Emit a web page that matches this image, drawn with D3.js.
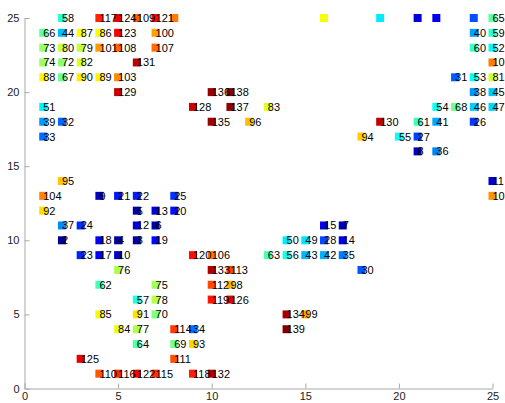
<!DOCTYPE html>
<html>
<head>
<meta charset="utf-8">
<script src="https://cdn.jsdelivr.net/npm/d3@7"></script>
<style>
  body { margin: 0; background: #fff; }
  .axis text { font-family: "Liberation Sans", Arial, sans-serif; font-size: 11px; fill: #222; }
  .axis path, .axis line { stroke: #a8a8a8; }
  .lbl { font-family: "Liberation Sans", Arial, sans-serif; font-size: 11px; fill: #000; }
</style>
</head>
<body>
<div id="chart-area"></div>
<script>
// labelled points, read row by row (top row first)
let pointX = [
  2, 4, 5, 6, 7, 25,
  1, 2, 3, 4, 5, 7, 24, 25,
  1, 2, 3, 4, 5, 7, 24, 25,
  1, 2, 3, 6, 25,
  1, 2, 3, 4, 5, 23, 24, 25,
  5, 10, 11, 24, 25,
  1, 9, 11, 13, 22, 23, 24, 25,
  1, 2, 10, 12, 19, 21, 22, 24,
  1, 18, 20, 21,
  21, 22,
  2, 25,
  1, 4, 5, 6, 8, 25,
  1, 6, 7, 8,
  2, 3, 6, 7, 16, 17,
  2, 4, 5, 6, 7, 14, 15, 16, 17,
  3, 4, 5, 9, 10, 13, 14, 15, 16, 17,
  5, 10, 11, 18,
  4, 7, 10, 11,
  6, 7, 10, 11,
  4, 6, 7, 14, 15,
  5, 6, 8, 9, 14,
  6, 8, 9,
  3, 8,
  4, 5, 6, 7, 9, 10
];
let pointY = [
  25, 25, 25, 25, 25, 25,
  24, 24, 24, 24, 24, 24, 24, 24,
  23, 23, 23, 23, 23, 23, 23, 23,
  22, 22, 22, 22, 22,
  21, 21, 21, 21, 21, 21, 21, 21,
  20, 20, 20, 20, 20,
  19, 19, 19, 19, 19, 19, 19, 19,
  18, 18, 18, 18, 18, 18, 18, 18,
  17, 17, 17, 17,
  16, 16,
  14, 14,
  13, 13, 13, 13, 13, 13,
  12, 12, 12, 12,
  11, 11, 11, 11, 11, 11,
  10, 10, 10, 10, 10, 10, 10, 10, 10,
  9, 9, 9, 9, 9, 9, 9, 9, 9, 9,
  8, 8, 8, 8,
  7, 7, 7, 7,
  6, 6, 6, 6,
  5, 5, 5, 5, 5,
  4, 4, 4, 4, 4,
  3, 3, 3,
  2, 2,
  1, 1, 1, 1, 1, 1
];
let pointLabel = [
  58, 117, 124, 109, 121, 65,
  66, 44, 87, 86, 123, 100, 40, 59,
  73, 80, 79, 101, 108, 107, 60, 52,
  74, 72, 82, 131, 105,
  88, 67, 90, 89, 103, 31, 53, 81,
  129, 136, 138, 38, 45,
  51, 128, 137, 83, 54, 68, 46, 47,
  39, 32, 135, 96, 130, 61, 41, 26,
  33, 94, 55, 27,
  8, 36,
  95, 11,
  104, 9, 21, 22, 25, 102,
  92, 5, 13, 20,
  37, 24, 12, 6, 15, 7,
  2, 18, 4, 3, 19, 50, 49, 28, 14,
  23, 17, 10, 120, 106, 63, 56, 43, 42, 35,
  76, 133, 113, 30,
  62, 75, 112, 98,
  57, 78, 119, 126,
  85, 91, 70, 134, 99,
  84, 77, 114, 34, 139,
  64, 69, 93,
  125, 111,
  110, 116, 122, 115, 118, 132
];

// markers on the top row that carry no label
let blankX = [8, 16, 19, 21, 22, 24];
let blankY = [25, 25, 25, 25, 25, 25];
let blankClass = [105, 86, 50, 12, 16, 29];

let xTicks = [0, 5, 10, 15, 20, 25];
let yTicks = [0, 5, 10, 15, 20, 25];

let width = 505, height = 403;

let svg = d3.select("#chart-area").append("svg")
    .attr("width", width)
    .attr("height", height);

// Scales
let x = d3.scaleLinear().domain([0, 25]).range([24.5, 492.5]);
let y = d3.scaleLinear().domain([0, 25]).range([388.5, 18]);

// jet colour map over the class numbers
let jet = d3.scaleLinear()
    .domain([1, 18.25, 52.75, 87.25, 121.75, 139])
    .range(["#000090", "#0000ff", "#00ffff", "#ffff00", "#ff0000", "#800000"])
    .clamp(true);

// Axes (ticks point inward, like matlab)
svg.append("g")
    .attr("class", "axis")
    .attr("transform", "translate(0," + y(0) + ")")
    .call(d3.axisBottom(x).tickValues(xTicks).tickSizeInner(-5).tickSizeOuter(0).tickPadding(4));

svg.append("g")
    .attr("class", "axis")
    .attr("transform", "translate(" + x(0) + ",0)")
    .call(d3.axisLeft(y).tickValues(yTicks).tickSizeInner(-5).tickSizeOuter(0).tickPadding(5));

let pts = pointLabel.map((d, i) => ({x: pointX[i], y: pointY[i], label: d}));
let blanks = blankX.map((d, i) => ({x: d, y: blankY[i], c: blankClass[i]}));

let s = 8;

svg.append("g").selectAll("rect.blank")
    .data(blanks)
  .enter().append("rect")
    .attr("x", d => x(d.x) - s / 2)
    .attr("y", d => y(d.y) - s / 2)
    .attr("width", s)
    .attr("height", s)
    .attr("fill", d => jet(d.c));

svg.append("g").selectAll("rect.pt")
    .data(pts)
  .enter().append("rect")
    .attr("x", d => x(d.x) - s / 2)
    .attr("y", d => y(d.y) - s / 2)
    .attr("width", s)
    .attr("height", s)
    .attr("fill", d => jet(d.label));

// labels on top of all markers, starting at the marker centre
svg.append("g").selectAll("text")
    .data(pts)
  .enter().append("text")
    .attr("class", "lbl")
    .attr("x", d => x(d.x))
    .attr("y", d => y(d.y))
    .attr("dy", "0.36em")
    .text(d => d.label);
</script>
</body>
</html>
